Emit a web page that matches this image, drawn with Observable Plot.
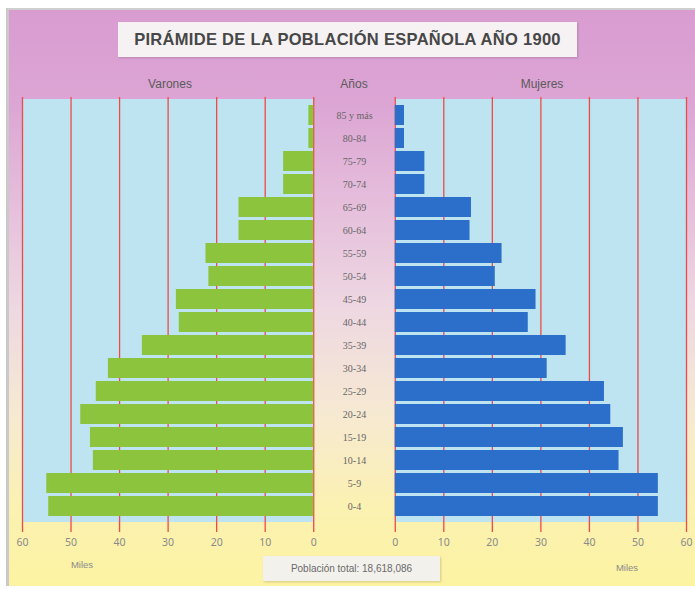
<!DOCTYPE html>
<html><head><meta charset="utf-8">
<script src="https://cdn.jsdelivr.net/npm/d3@7"></script>
<script src="https://cdn.jsdelivr.net/npm/@observablehq/plot@0.6"></script>
<style>
body{margin:0;background:#fff;}
#wrap{position:relative;width:695px;height:589px;overflow:hidden;background:#fff;font-family:"Liberation Sans",Arial,sans-serif;}
#bg{position:absolute;left:6px;top:8px;right:0;bottom:3px;border-left:3px solid #c9c9c9;border-top:2px solid #cfcfcf;
 background:linear-gradient(to bottom,#d99cd1 0%,#dca5d4 16%,#e6c0dc 35%,#eed8e2 52%,#f6e9d2 70%,#fbf1b2 86%,#fcf3a2 100%);}
#title{position:absolute;left:118px;top:22px;width:459px;height:35px;background:#f6f2f3;box-shadow:1px 1px 2px rgba(120,80,110,0.35);
 display:flex;align-items:center;justify-content:center;font-weight:bold;font-size:16.5px;color:#474747;letter-spacing:0.3px;}
.hdr{position:absolute;top:77px;font-size:12px;color:#5a5a5a;transform:translateX(-50%);}
.miles{position:absolute;font-size:9.5px;color:#8a8a8a;transform:translateX(-50%);}
#pop{position:absolute;left:263px;top:556px;width:177px;height:25px;background:#f3f1ec;box-shadow:1px 1px 2px rgba(150,140,90,0.4);
 display:flex;align-items:center;justify-content:center;font-size:10px;color:#6a6a6a;}
#chart{position:absolute;left:0;top:0;}
</style></head>
<body>
<div id="wrap">
 <div id="bg"></div>
 <div id="chart"></div>
 <div id="title">PIRÁMIDE DE LA POBLACIÓN ESPAÑOLA AÑO 1900</div>
 <div class="hdr" style="left:170px">Varones</div>
 <div class="hdr" style="left:354px">Años</div>
 <div class="hdr" style="left:542px">Mujeres</div>
 <div class="miles" style="left:82px;top:559px">Miles</div>
 <div class="miles" style="left:627px;top:562px">Miles</div>
 <div id="pop">Población total: 18,618,086</div>
</div>
<script>
const ages = ["85 y más","80-84","75-79","70-74","65-69","60-64","55-59","50-54","45-49","40-44","35-39","30-34","25-29","20-24","15-19","10-14","5-9","0-4"];
const varones = [1.0,1.0,6.2,6.2,15.4,15.4,22.2,21.6,28.3,27.7,35.3,42.3,44.8,48.0,46.0,45.4,55.0,54.6];
const mujeres = [1.9,1.9,6.1,6.1,15.7,15.4,22.0,20.6,29.0,27.4,35.2,31.3,43.1,44.4,47.0,46.1,54.2,54.2];
const tickValues = [0,10,20,30,40,50,60];

const G = 8.4; // half-gap of the central age column, in data units
const rows = ages.map((a,i)=>({age:a, v:varones[i], m:mujeres[i]}));
const leftPos = tickValues.map(t=>-(t+G));
const rightPos = tickValues.map(t=>t+G);
const allPos = leftPos.concat(rightPos);
const red = "#ee4b47";
const panel = "#bfe4f1";

const chart = Plot.plot({
  width:695, height:589,
  marginTop:99, marginBottom:67, marginLeft:22, marginRight:9,
  style:{background:"transparent", overflow:"visible"},
  x:{domain:[-(60+G), 60+G], axis:null},
  y:{domain:ages, axis:null, paddingInner:0.15, paddingOuter:0.12},
  marks:[
    Plot.barX([0],{x1:-(60+G), x2:-G, fill:panel}),
    Plot.barX([0],{x1:G, x2:60+G, fill:panel}),
    Plot.ruleX(allPos,{stroke:red, strokeWidth:1.3, insetTop:-2}),
    Plot.barX(rows,{y:"age", x1:-G, x2:d=>-(d.v+G), fill:"#8cc43d"}),
    Plot.barX(rows,{y:"age", x1:G, x2:d=>d.m+G, fill:"#2b6fcb"}),
    Plot.text(rows,{y:"age", x:0, text:"age", fill:"#666", fontSize:10, fontFamily:"Liberation Serif"}),
    Plot.axisX(allPos,{tickSize:10, stroke:red, strokeWidth:1.3, fill:"#8a8a8a", fontSize:10.5, tickPadding:6,
      tickFormat:d=>String(Math.round(Math.abs(d)-G)), label:null})
  ]
});
document.getElementById("chart").appendChild(chart);
</script>
</body></html>
